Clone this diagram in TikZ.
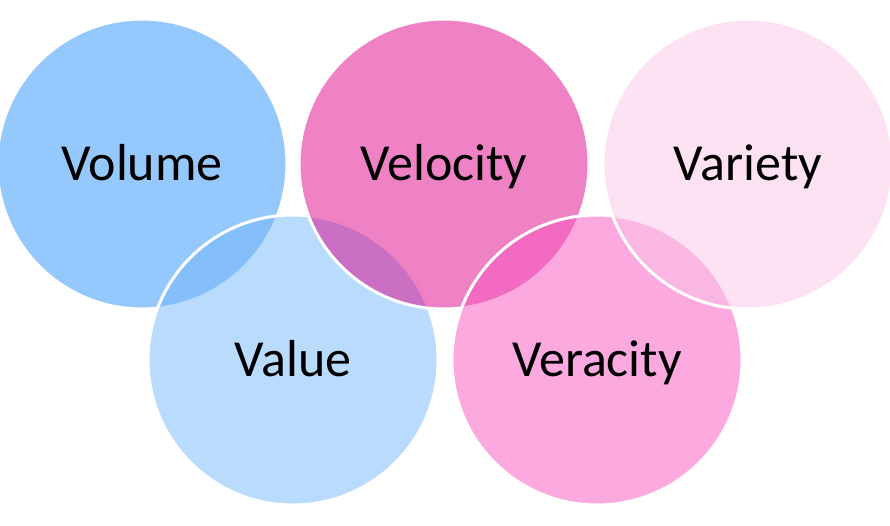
\documentclass[tikz,border=0pt]{standalone}
\usepackage{fontspec}
\setmainfont{Carlito}
\usepackage{tikz}
\usetikzlibrary{positioning}
\definecolor{volumeblue}{RGB}{43,145,249}
\definecolor{valueblue}{RGB}{115,183,253}
\definecolor{velocitypink}{RGB}{221,5,137}
\definecolor{veracitypink}{RGB}{247,83,191}
\definecolor{varietypink}{RGB}{251,197,231}

\begin{document}
\begin{tikzpicture}[x=1pt,y=-1pt,
    bubble/.style={circle,draw=white,line width=3pt,fill=#1,fill opacity=0.5,
      text opacity=1,minimum size=290pt,inner sep=0pt,
      font=\fontsize{52}{60}\selectfont,text height=32pt,text depth=0pt}]
  \useasboundingbox (0,0) rectangle (890,525);
  \node[bubble=volumeblue]   (volume)   at (142,164) {Volume};
  \node[bubble=valueblue]    (value)    at (293,360) {Value};
  \node[bubble=velocitypink] (velocity) at (444,164) {Velocity};
  \node[bubble=veracitypink] (veracity) at (597,360) {Veracity};
  \node[bubble=varietypink]  (variety)  at (748,164) {Variety};
\end{tikzpicture}
\end{document}
